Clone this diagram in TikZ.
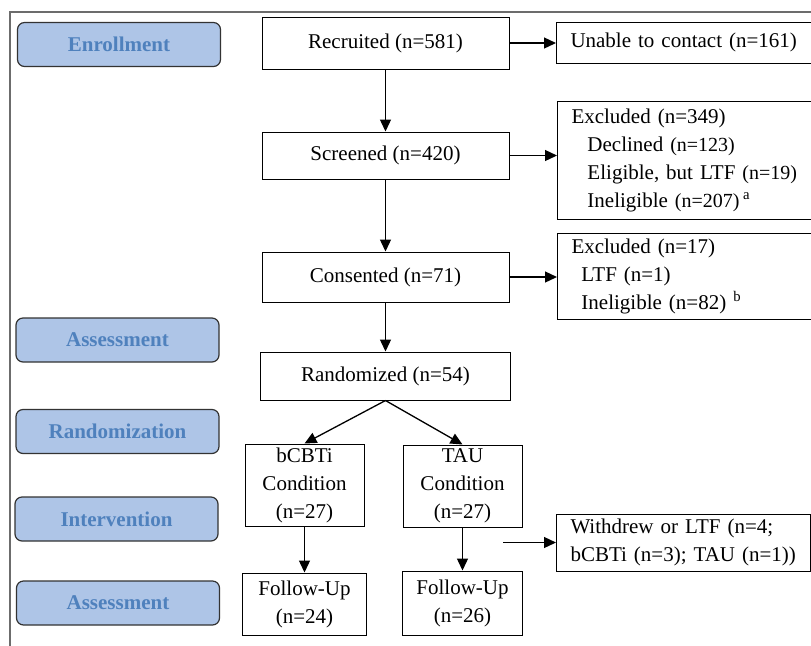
\documentclass[tikz,border=0pt]{standalone}
\usepackage{fontspec}
\setmainfont{Liberation Serif}
\usepackage{xcolor}
\usepackage{tikz}
\usetikzlibrary{arrows.meta, positioning, calc}

\definecolor{phasefill}{HTML}{AEC5E7}
\definecolor{phasetext}{HTML}{4F81BD}
\newcommand{\nsub}[1]{{\fontsize{10}{14}\selectfont #1}}

\begin{document}
\begin{tikzpicture}[x=0.5pt, y=-0.5pt,
    every node/.style={font=\fontsize{10.5}{14}\selectfont},
    phase/.style={draw=black!80, fill=phasefill, rounded corners=3.5pt, line width=0.6pt,
      minimum width=101.5pt, minimum height=22pt, text=phasetext,
      font=\fontsize{10.5}{14}\selectfont\bfseries},
    flowbox/.style={draw, line width=0.5pt, align=center, inner sep=1pt},
    sidebox/.style={draw, line width=0.5pt, anchor=west, align=left, inner xsep=7pt, inner ysep=1pt},
    arr/.style={-{Triangle[length=6pt,width=5.5pt]}, line width=0.65pt}]
      \useasboundingbox (0,0) rectangle (811,645);
      \clip (0,0) rectangle (811,645);

      % outer frame
      \draw[gray!85!black, line width=0.8pt] (10,660) -- (10,12) -- (830,12);

      % phases
      \node[phase] (enroll) at (119,44.5) {Enrollment};
      \node[phase] (assess1) at (117.5,340) {Assessment};
      \node[phase] (randphase) at (117.5,431.5) {Randomization};
      \node[phase] (interv) at (116.5,519) {Intervention};
      \node[phase] (assess2) at (118,603) {Assessment};

      % main flow
      \node[flowbox, minimum width=123.5pt, minimum height=26pt] (recruited) at (385.5,43) {Recruited (n=581)};
      \node[flowbox, minimum width=123.5pt, minimum height=23.5pt] (screened) at (385.5,155.5) {Screened (n=420)};
      \node[flowbox, minimum width=123.5pt, minimum height=25pt] (consented) at (385.5,277) {Consented (n=71)};
      \node[flowbox, minimum width=125pt, minimum height=24pt] (randomized) at (385.5,376) {Randomized (n=54)};
      \node[flowbox, minimum width=59.5pt, minimum height=41pt] (bcbti) at (304.5,485) {bCBTi\\Condition\\(n=27)};
      \node[flowbox, minimum width=59.5pt, minimum height=41pt] (tau) at (462.5,486) {TAU\\Condition\\(n=27)};
      \node[flowbox, minimum width=62pt, minimum height=31pt] (fuone) at (304.5,604) {Follow-Up\\(n=24)};
      \node[flowbox, minimum width=60pt, minimum height=32pt] (futwo) at (462.5,603) {Follow-Up\\(n=26)};

      % side boxes
      \node[sidebox, text width=140pt, minimum height=20.5pt] (unable) at (556,42.5) {Unable to contact (n=161)};
      \node[sidebox, text width=140pt, minimum height=59pt] (exclone) at (557,160)
        {Excluded (n=349)\\
         \hspace*{8pt}Declined \nsub{(n=123)}\\
         \hspace*{8pt}Eligible, but LTF \nsub{(n=19)}\\
         \hspace*{8pt}Ineligible \nsub{(n=207)}\,\textsuperscript{a}};
      \node[sidebox, text width=140pt, minimum height=43pt] (excltwo) at (557,276)
        {Excluded (n=17)\\
         \hspace*{5pt}LTF (n=1)\\
         \hspace*{5pt}Ineligible (n=82) \textsuperscript{b}};
      \node[sidebox, text width=113pt, minimum height=28.5pt] (withdrew) at (556,542.5)
        {Withdrew or LTF (n=4;\\bCBTi (n=3); TAU (n=1))};
      \coordinate (wstart) at (503,542.5);

      % arrows
      \draw[arr] (recruited) -- (screened);
      \draw[arr] (recruited.east) -- (recruited.east -| unable.west);
      \draw[arr] (screened) -- (consented);
      \draw[arr] (screened.east) -- (screened.east -| exclone.west);
      \draw[arr] (consented) -- (randomized);
      \draw[arr] (consented.east) -- (consented.east -| excltwo.west);
      \draw[arr] (randomized.south) -- (bcbti.north);
      \draw[arr] (randomized.south) -- (tau.north);
      \draw[arr] (bcbti) -- (fuone);
      \draw[arr] (tau) -- (futwo);
      \draw[arr] (wstart) -- (withdrew.west);
    \end{tikzpicture}
\end{document}
